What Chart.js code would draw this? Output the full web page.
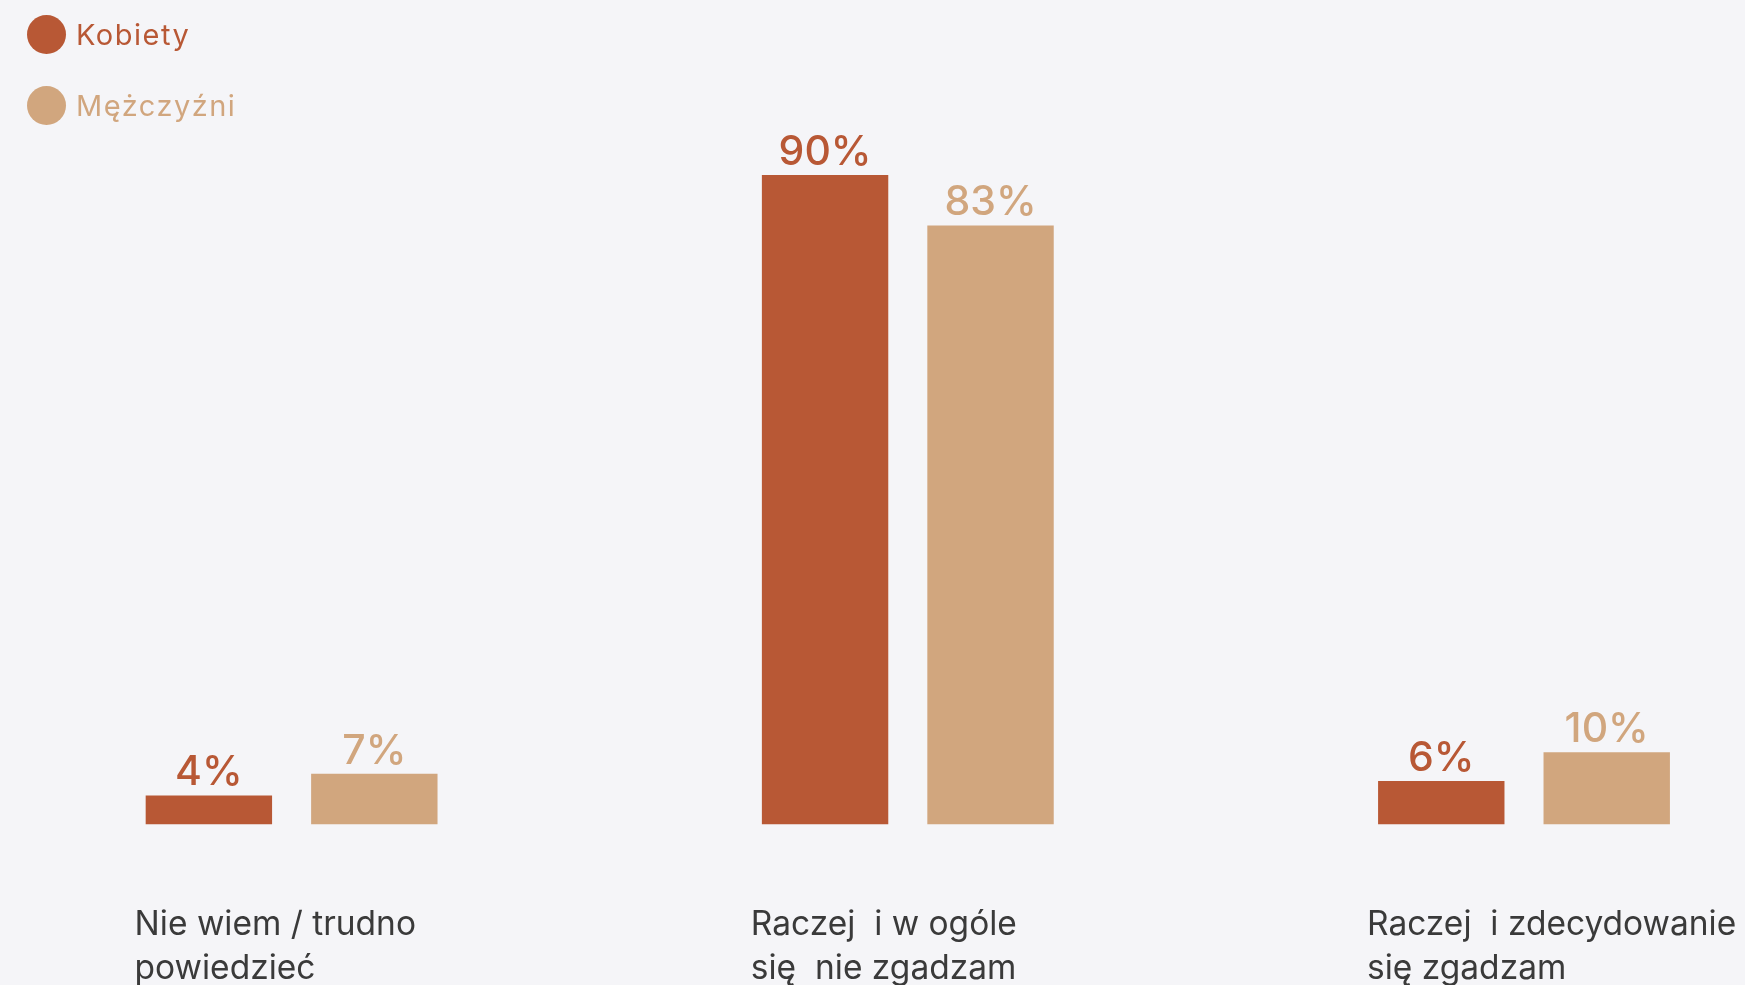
<!DOCTYPE html>
<html lang="pl">
<head>
<meta charset="utf-8">
<title>Kobiety i mężczyźni</title>
<script src="https://cdn.jsdelivr.net/npm/chart.js@4"></script>
<style>
    html, body { margin: 0; padding: 0; background: #f5f5f8; overflow: hidden; }
    #wrap { position: relative; width: 1745px; height: 988px; }
    #legend { position: absolute; left: 27px; top: 15px; margin: 0; padding: 0; list-style: none; font-family: Inter, sans-serif; font-size: 29px; letter-spacing: 1.5px; }
    #legend li { display: flex; align-items: center; height: 39px; margin-bottom: 31.5px; }
    #legend .dot { width: 39px; height: 39px; border-radius: 50%; margin-right: 10px; }
</style>
</head>
<body>
<div id="wrap">
    <canvas id="chart"></canvas>
    <ul id="legend"></ul>
</div>
<script>
    // Data
    const categories = [
        ["Nie wiem / trudno", "powiedzieć"],
        ["Raczej  i w ogóle", "się  nie zgadzam"],
        ["Raczej  i zdecydowanie", "się zgadzam"]
    ];
    const seriesNames = ["Kobiety", "Mężczyźni"];
    const womenValues = [4, 90, 6];
    const menValues = [7, 83, 10];
    const colors = ["#b85835", "#d1a67e"];

    // HTML legend built from the chart's own legend items
    const htmlLegend = {
        id: "htmlLegend",
        afterUpdate(chart) {
            const ul = document.getElementById("legend");
            ul.innerHTML = "";
            chart.options.plugins.legend.labels.generateLabels(chart).forEach(item => {
                const li = document.createElement("li");
                const dot = document.createElement("span");
                dot.className = "dot";
                dot.style.background = item.fillStyle;
                const text = document.createElement("span");
                text.textContent = item.text;
                text.style.color = item.fillStyle;
                li.appendChild(dot);
                li.appendChild(text);
                ul.appendChild(li);
            });
        }
    };

    // Percent labels above bars
    const valueLabels = {
        id: "valueLabels",
        afterDatasetsDraw(chart) {
            const ctx = chart.ctx;
            chart.data.datasets.forEach((ds, di) => {
                chart.getDatasetMeta(di).data.forEach((bar, i) => {
                    ctx.save();
                    ctx.font = "500 41px Inter";
                    ctx.fillStyle = ds.backgroundColor;
                    ctx.textAlign = "center";
                    ctx.textBaseline = "alphabetic";
                    ctx.fillText(ds.data[i] + "%", bar.x, bar.y - 10);
                    ctx.restore();
                });
            });
        }
    };

    new Chart(document.getElementById("chart"), {
        type: "bar",
        data: {
            labels: categories,
            datasets: [
                { label: seriesNames[0], data: womenValues, backgroundColor: colors[0] },
                { label: seriesNames[1], data: menValues, backgroundColor: colors[1] }
            ]
        },
        options: {
            responsive: true,
            maintainAspectRatio: false,
            animation: false,
            events: [],
            layout: { padding: { left: 291.6, right: 221, top: 102.8, bottom: 0 } },
            datasets: {
                bar: { categoryPercentage: 0.537, barPercentage: 0.764, clip: false }
            },
            plugins: {
                legend: { display: false },
                tooltip: { enabled: false }
            },
            scales: {
                x: {
                    offset: false,
                    grid: { display: false, drawTicks: false },
                    border: { display: false },
                    ticks: {
                        autoSkip: false,
                        maxRotation: 0,
                        align: "start",
                        labelOffset: -157,
                        padding: 78,
                        color: "#3a3a3a",
                        font: { family: "Inter", size: 33.5, lineHeight: 1.33 }
                    },
                    afterFit(scale) {
                        scale.paddingLeft = 0;
                        scale.paddingRight = 0;
                        scale.height = 163.7;
                    }
                },
                y: {
                    display: false,
                    min: 0,
                    max: 100
                }
            }
        },
        plugins: [htmlLegend, valueLabels]
    });
</script>
</body>
</html>
